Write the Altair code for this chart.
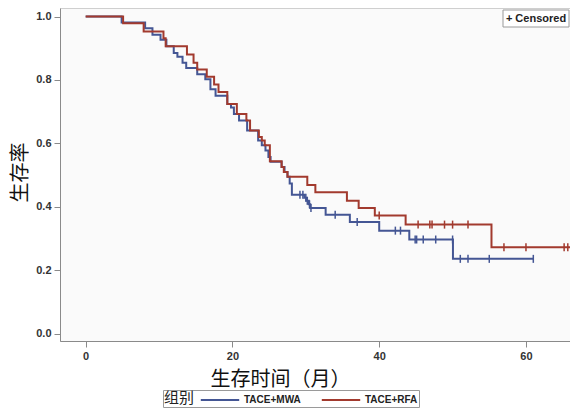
import altair as alt
import pandas as pd

# ---- data ----
groups = ["TACE+MWA", "TACE+RFA"]
colors = ["#445694", "#A23A2E"]

mwa_t = [0, 4.9, 8.1, 9.1, 10.2, 11.0, 12.0, 12.5, 13.2, 13.7, 15.2, 16.3, 17.0, 17.7,
         19.3, 19.8, 20.2, 20.9, 22.0, 23.5, 24.0, 24.5, 24.9, 25.2, 26.7, 27.1, 27.5,
         27.8, 28.1, 29.8, 30.1, 30.4, 30.6, 32.7, 36.0, 40.0, 44.1, 50.05]
mwa_s = [1.0, 0.981, 0.963, 0.943, 0.927, 0.906, 0.885, 0.873, 0.854, 0.838, 0.818, 0.802, 0.771, 0.750,
         0.724, 0.713, 0.693, 0.672, 0.641, 0.609, 0.594, 0.578, 0.557, 0.542, 0.526, 0.510, 0.495,
         0.474, 0.438, 0.429, 0.419, 0.408, 0.396, 0.375, 0.352, 0.325, 0.297, 0.236]
mwa_end = 61.0
mwa_cens = [29.2, 29.6, 30.0, 30.2, 30.5, 30.7, 34.0, 37.0, 42.2, 42.9, 44.9, 45.1, 46.0,
            47.7, 50.0, 51.05, 52.1, 55.0, 61.0]

rfa_t = [0, 5.1, 7.9, 10.6, 10.9, 13.8, 14.7, 15.2, 16.5, 17.5, 18.1, 19.3, 20.6, 21.9,
         22.4, 23.6, 24.0, 24.4, 25.1, 26.7, 27.0, 27.5, 30.2, 31.3, 35.6, 37.2, 39.4, 43.6, 55.3]
rfa_s = [1.0, 0.979, 0.953, 0.932, 0.906, 0.880, 0.854, 0.833, 0.810, 0.786, 0.762, 0.724, 0.693, 0.672,
         0.641, 0.620, 0.609, 0.594, 0.544, 0.526, 0.510, 0.495, 0.469, 0.446, 0.419, 0.396, 0.373, 0.344, 0.273]
rfa_end = 66.5
rfa_cens = [40.0, 45.3, 46.9, 47.2, 48.9, 50.0, 52.1, 57.0, 60.0, 65.2, 65.7]

x_ticks = [0, 20, 40, 60]
y_ticks = [0.0, 0.2, 0.4, 0.6, 0.8, 1.0]


def step_rows(ts, ss, end, name):
    rows = [{"t": t, "s": s, "group": name} for t, s in zip(ts, ss)]
    rows.append({"t": end, "s": ss[-1], "group": name})
    return rows


def censor_rows(ts, ss, cens, name):
    out = []
    for c in cens:
        s = [sv for tv, sv in zip(ts, ss) if tv <= c][-1]
        out.append({"t": c, "s": s, "group": name})
    return out


line_df = pd.DataFrame(step_rows(mwa_t, mwa_s, mwa_end, groups[0]) +
                       step_rows(rfa_t, rfa_s, rfa_end, groups[1]))
cens_df = pd.DataFrame(censor_rows(mwa_t, mwa_s, mwa_cens, groups[0]) +
                       censor_rows(rfa_t, rfa_s, rfa_cens, groups[1]))

cjk = "Noto Sans CJK SC"
lab = "Liberation Sans"

x_enc = alt.X("t:Q",
              scale=alt.Scale(domain=[-3.5, 66.0], nice=False, zero=False),
              axis=alt.Axis(values=x_ticks, title="生存时间（月）", format="d",
                            titleX=220, titleY=38, titleAlign="center",
                            titleBaseline="middle"))
y_enc = alt.Y("s:Q",
              scale=alt.Scale(domain=[-0.023, 1.027], nice=False, zero=False),
              axis=alt.Axis(values=y_ticks, title="生存率", format=".1f",
                            titleX=-40, titleY=164, titleAlign="center",
                            titleBaseline="middle"))
color_scale = alt.Scale(domain=groups, range=colors)

lines = alt.Chart(line_df).mark_line(interpolate="step-after", strokeWidth=2, clip=True).encode(
    x=x_enc, y=y_enc,
    color=alt.Color("group:N", scale=color_scale,
                    legend=alt.Legend(title="组别", orient="none", legendX=103, legendY=382,
                                      direction="horizontal", titleOrient="left",
                                      titleAnchor="middle", titleBaseline="middle",
                                      symbolType="M-2.4,0L2.4,0", symbolSize=256,
                                      symbolStrokeWidth=2, labelOffset=15,
                                      columnPadding=16, titlePadding=16,
                                      strokeColor="#9a9a9a", fillColor="white",
                                      padding=1, titleFont=cjk, titleFontSize=15,
                                      titleFontWeight="normal", titleColor="#222",
                                      labelFont=lab, labelFontSize=10,
                                      labelFontWeight="bold", labelColor="#222")),
    order=alt.Order("t:Q"),
)

censors = alt.Chart(cens_df).mark_point(shape="M0,-1L0,1", size=64, strokeWidth=1.5,
                                        filled=False, opacity=1, clip=True).encode(
    x="t:Q", y="s:Q",
    color=alt.Color("group:N", scale=color_scale, legend=None),
)

anno = pd.DataFrame({"label": ["+ Censored"]})
box = alt.Chart(anno).mark_rect(fill="white", stroke="#9a9a9a", strokeWidth=1).encode(
    x=alt.value(443), x2=alt.value(509), y=alt.value(2), y2=alt.value(19))
txt = alt.Chart(anno).mark_text(font=lab, fontSize=11, fontWeight="bold", color="#222",
                                align="center", baseline="middle").encode(
    x=alt.value(476), y=alt.value(11), text="label:N")

chart = alt.layer(lines, censors, box, txt).properties(
    width=510, height=333,
    autosize=alt.AutoSizeParams(type="none"),
    padding={"left": 52, "top": 0, "right": 0, "bottom": 67},
    background="white",
).configure_view(
    fill="#fafafa", stroke="#cfcfcf", strokeWidth=1
).configure_axis(
    grid=False, domainColor="#8a8a8a", tickColor="#8a8a8a", tickSize=6,
    labelFont=lab, labelFontWeight="bold", labelFontSize=11, labelColor="#333",
    labelPadding=3, titleFont=cjk, titleFontSize=20, titleFontWeight="normal",
    titleColor="#111",
)

chart.save("out.html", embed_options={"renderer": "svg", "actions": False})
